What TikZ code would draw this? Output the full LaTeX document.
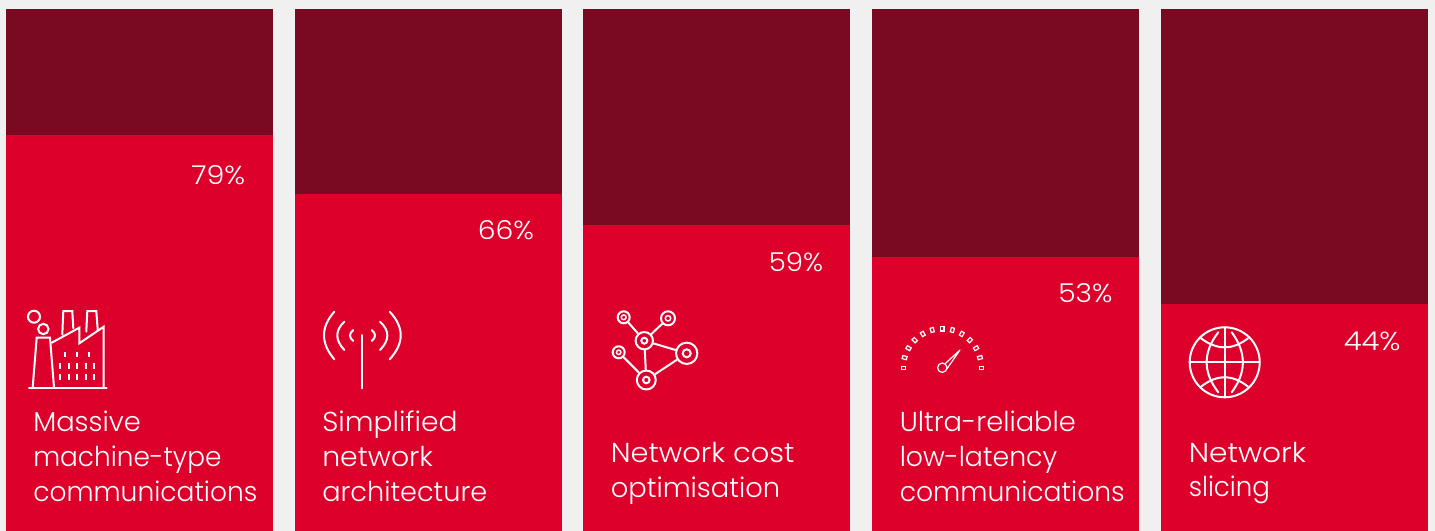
\documentclass[tikz,border=0pt]{standalone}
\usepackage{fontspec}
\usepackage{graphicx}
\usetikzlibrary{calc}
\setmainfont{Poppins}[UprightFont={* Light}]
\definecolor{bgc}{HTML}{F0F0F0}
\definecolor{darkbar}{HTML}{7A0A22}
\definecolor{redbar}{HTML}{DD002B}
\tikzset{
  icon/.style={draw=white,line width=1.5pt,line cap=round,line join=miter},
  thin icon/.style={draw=white,line width=0.9pt},
  pct/.style={text=white,anchor=base west,inner sep=0pt,font=\fontsize{19.5}{24}\selectfont},
  lab/.style={text=white,anchor=base west,inner sep=0pt,font=\fontsize{20.5}{26}\selectfont},
  net/.style={circle,draw=white,line width=1.5pt,inner sep=0pt,fill=redbar}
}
\newcommand{\barcol}[2]{%
  \fill[darkbar] (#1,9) rectangle ({#1+267},#2);
  \fill[redbar] (#1,#2) rectangle ({#1+267},531);
}
\newcommand{\qc}[3]{\draw[icon] (#1) .. controls ($(#1)!0.667!(#2)$) and ($(#3)!0.667!(#2)$) .. (#3);}
\newcommand{\hs}[2]{\scalebox{#1}[1]{#2}}
\begin{document}
\begin{tikzpicture}[x=0.75pt,y=-0.75pt]
\useasboundingbox (0,0) rectangle (1435,531);
\fill[bgc] (0,0) rectangle (1435,531);
\barcol{6}{135}
\barcol{295}{194}
\barcol{583}{225}
\barcol{872}{257}
\barcol{1161}{304}
% percentages
\node[pct] (p1) at (191,185) {\hs{1.10}{79\%}};
\node[pct] (p2) at (477.5,239.5) {\hs{1.09}{66\%}};
\node[pct] (p3) at (768.5,272) {\hs{1.06}{59\%}};
\node[pct] (p4) at (1058,302.5) {\hs{1.08}{53\%}};
\node[pct] (p5) at (1343.5,350) {\hs{1.12}{44\%}};
% labels
\node[lab] (l1a) at (33,431) {Massive};
\node[lab] (l1b) at (33,466) {\hs{.964}{machine-type}};
\node[lab] (l1c) at (33,501) {\hs{.97}{communications}};
\node[lab] (l2a) at (322,431) {\hs{1.03}{Simplified}};
\node[lab] (l2b) at (322,466) {\hs{1.037}{network}};
\node[lab] (l2c) at (322,501) {\hs{.994}{architecture}};
\node[lab] (l3a) at (610.5,462) {\hs{1.056}{Network cost}};
\node[lab] (l3b) at (610.5,497) {optimisation};
\node[lab] (l4a) at (899.5,431) {Ultra-reliable};
\node[lab] (l4b) at (899.5,466) {\hs{.98}{low-latency}};
\node[lab] (l4c) at (899.5,501) {\hs{.974}{communications}};
\node[lab] (l5a) at (1188.5,462) {\hs{1.083}{Network}};
\node[lab] (l5b) at (1188.5,496.5) {\hs{.953}{slicing}};
% factory
\draw[icon] (34,316.7) circle (6);
\draw[icon] (43.3,329) circle (5.2);
\draw[icon] (32.7,387.3) -- (36.7,337.7) -- (50,337.7) -- (54,387.3);
\draw[icon] (29,388.3) -- (106.7,388.3);
\draw[icon] (103.7,387) -- (103.7,326.7) -- (79.3,343.3) -- (79.3,327.7) -- (51.7,342.7);
\draw[icon] (62.3,334.5) -- (63.3,311) -- (72.3,311) -- (73.3,328.3);
\draw[icon] (86.3,331.5) -- (87.3,311) -- (96.3,311) -- (97.7,329.5);
\foreach \x in {65,77,89} \draw[icon,line cap=butt] (\x,351.7) -- (\x,357.3);
\foreach \x in {60,68.7,77,85.7,94} {
  \draw[icon,line cap=butt] (\x,363.3) -- (\x,369);
  \draw[icon,line cap=butt] (\x,374.3) -- (\x,380);
}
% antenna
\draw[icon] (362,335) -- (362,388.3);
\qc{334.3,359.3}{313.7,335}{334.3,311.7}
\qc{389.7,359.3}{411.7,335}{389.7,311.7}
\qc{344.3,350}{330.3,335}{344.3,321.7}
\qc{380,350}{394.7,335}{380,321.7}
\qc{353.3,341}{346.7,335.5}{353.3,330}
\qc{371.7,341}{378.3,335.5}{371.7,330}
% network
\node[net,minimum size=9pt] (na) at (623.7,317.3) {};
\node[net,minimum size=10.5pt] (nb) at (668,318.3) {};
\node[net,minimum size=13pt] (nc) at (644.3,340.7) {};
\node[net,minimum size=16pt] (nd) at (686.7,353.3) {};
\node[net,minimum size=9pt] (ne) at (618.7,352.3) {};
\node[net,minimum size=14.2pt] (nf) at (646.3,380) {};
\draw[icon] (na) -- (nc);
\draw[icon] (nb) -- (nc);
\draw[icon] (nc) -- (nd);
\draw[icon] (nc) -- (nf);
\draw[icon] (ne) -- (nf);
\draw[icon] (nd) -- (nf);
\draw[icon,line width=1.1pt] (na.center) circle (2.4);
\draw[icon,line width=1.1pt] (nb.center) circle (2.7);
\draw[icon] (nc.center) circle (3);
\draw[icon] (nd.center) circle (4);
\draw[icon,line width=1.1pt] (ne.center) circle (2.2);
\draw[icon] (nf.center) circle (3.3);
% gauge
\foreach \a in {0,15,...,180} {
  \draw[thin icon,shift={(942.3,367.7)},rotate=\a] (36.8,-1.6) rectangle (41.2,1.6);
}
\draw[thin icon] (942.3,367.7) circle (4.7);
\draw[thin icon,line join=round] (945,363.8) -- (960,350) -- (946.8,369);
% globe
\draw[icon] (1224.7,362.3) circle (35);
\draw[icon] (1189.7,362.3) -- (1259.7,362.3);
\draw[icon] (1224.7,327.3) -- (1224.7,397.3);
\qc{1218.3,332.3}{1195,362.3}{1218.3,392.3}
\qc{1231.7,332.3}{1254,362.3}{1231.7,392.3}
\qc{1201,338.3}{1224.7,356.3}{1248,338.3}
\qc{1201,386.7}{1224.7,367.9}{1248,386.7}
\end{tikzpicture}
\end{document}
